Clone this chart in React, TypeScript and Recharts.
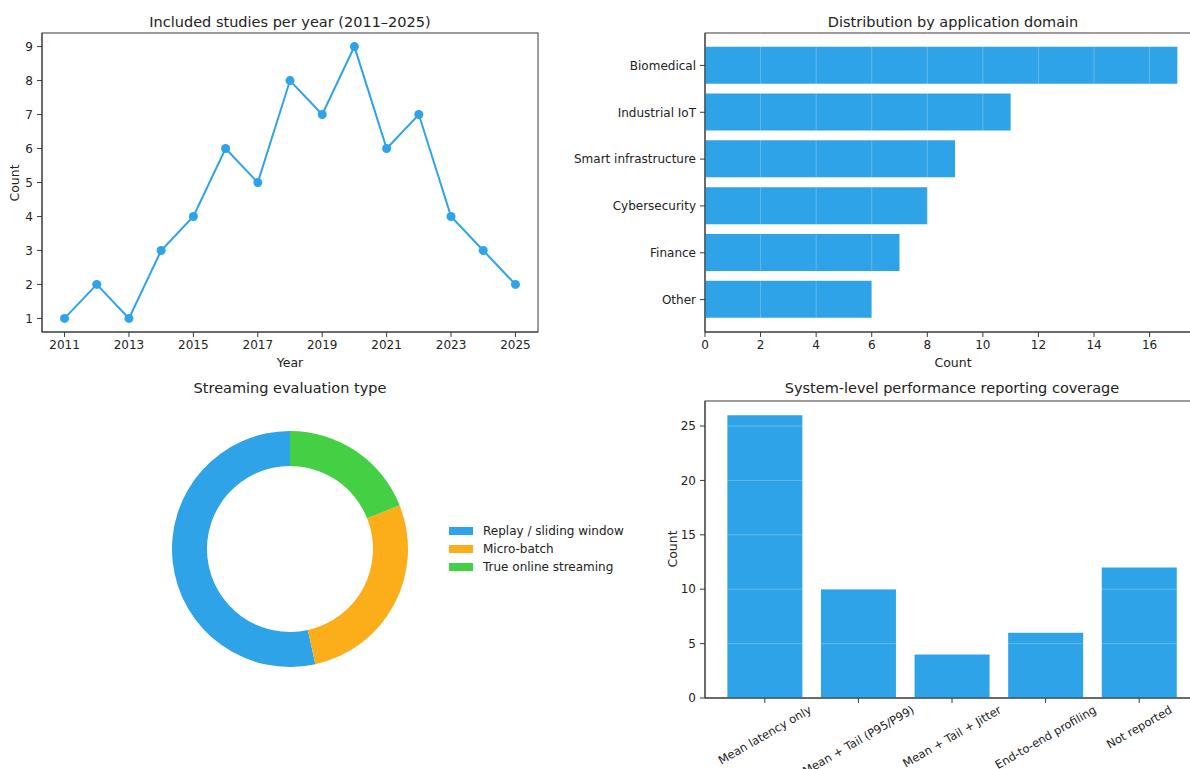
import React from "react";
import * as Recharts from "recharts";
import {
  LineChart,
  Line,
  BarChart,
  Bar,
  PieChart,
  Pie,
  Cell,
  XAxis,
  YAxis,
  ReferenceLine,
  Customized,
  Legend,
} from "recharts";

// studies per year
const years = [2011, 2012, 2013, 2014, 2015, 2016, 2017, 2018, 2019, 2020, 2021, 2022, 2023, 2024, 2025];
const studyCounts = [1, 2, 1, 3, 4, 6, 5, 8, 7, 9, 6, 7, 4, 3, 2];
const yearTicks = [2011, 2013, 2015, 2017, 2019, 2021, 2023, 2025];
const studyTicks = [1, 2, 3, 4, 5, 6, 7, 8, 9];

// application domains
const domains = ["Biomedical", "Industrial IoT", "Smart infrastructure", "Cybersecurity", "Finance", "Other"];
const domainCounts = [17, 11, 9, 8, 7, 6];
const domainTicks = [0, 2, 4, 6, 8, 10, 12, 14, 16];

// streaming evaluation type
const evalTypes = ["Replay / sliding window", "Micro-batch", "True online streaming"];
const evalCounts = [31, 16, 11];
const evalColors = ["#2EA3E8", "#FBAD1A", "#44D044"];

// performance reporting
const reportTypes = [
  "Mean latency only",
  "Mean + Tail (P95/P99)",
  "Mean + Tail + Jitter",
  "End-to-end profiling",
  "Not reported",
];
const reportCounts = [26, 10, 4, 6, 12];
const reportTicks = [0, 5, 10, 15, 20, 25];

const BLUE = "#2EA3E8";
const FRAME = "#3a3a3a";
const TEXT = "#222";
const FONT = "'DejaVu Sans', sans-serif";
const TICK_FONT = 12;
const ROT_FONT = 11.5;

// axis limits with matplotlib-style 5% margins
const yearDomain: [number, number] = [2010.3, 2025.7];
const studyDomain: [number, number] = [0.6, 9.4];
const domainMax = 17.85;
const reportMax = 27.3;

const yearData = years.map((year, i) => ({ year, count: studyCounts[i] }));
const domainData = domains.map((domain, i) => ({ domain, count: domainCounts[i] }));
const evalData = evalTypes.map((type, i) => ({ type, count: evalCounts[i] }));
const reportData = reportTypes.map((type, i) => ({ type, count: reportCounts[i] }));

const tickStyle = { fontSize: TICK_FONT, fill: TEXT };

// outline of the whole plot area (matplotlib-style axes box)
function AxesBox() {
  const usePlotArea = (Recharts as any).usePlotArea;
  const area = usePlotArea ? usePlotArea() : null;
  if (!area) return null;
  return (
    <rect
      x={area.x}
      y={area.y}
      width={area.width}
      height={area.height}
      fill="none"
      stroke={FRAME}
    />
  );
}

let measureCtx: CanvasRenderingContext2D | null = null;
function textWidth(s: string) {
  if (!measureCtx) measureCtx = document.createElement("canvas").getContext("2d");
  if (!measureCtx) return s.length * ROT_FONT * 0.6;
  measureCtx.font = `${ROT_FONT}px 'DejaVu Sans'`;
  return measureCtx.measureText(s).width;
}

// x labels rotated 30deg, bounding box centred under the tick
function RotatedTick(props: any) {
  const { x, y, payload } = props;
  const w = textWidth(payload.value);
  const a = Math.PI / 6;
  const boxH = w * Math.sin(a) + ROT_FONT * 1.15 * Math.cos(a);
  const cy = y + boxH / 2;
  return (
    <text
      x={x}
      y={cy}
      transform={`rotate(-30 ${x} ${cy})`}
      textAnchor="middle"
      dominantBaseline="central"
      fontSize={ROT_FONT}
      fill={TEXT}
    >
      {payload.value}
    </text>
  );
}

function PieLegend() {
  return (
    <div style={{ fontSize: TICK_FONT, color: TEXT, lineHeight: "18px" }}>
      {evalTypes.map((t, i) => (
        <div key={t} style={{ display: "flex", alignItems: "center", whiteSpace: "nowrap" }}>
          <span style={{ width: 24, height: 8, background: evalColors[i], marginRight: 10 }} />
          {t}
        </div>
      ))}
    </div>
  );
}

function Title({ x, y, children }: { x: number; y: number; children: React.ReactNode }) {
  return (
    <div
      style={{
        position: "absolute",
        left: x,
        top: y,
        transform: "translate(-50%, -50%)",
        fontSize: 14.5,
        color: TEXT,
        whiteSpace: "nowrap",
      }}
    >
      {children}
    </div>
  );
}

function AxisTitle({ x, y, vertical, children }: { x: number; y: number; vertical?: boolean; children: React.ReactNode }) {
  return (
    <div
      style={{
        position: "absolute",
        left: x,
        top: y,
        transform: `translate(-50%, -50%)${vertical ? " rotate(-90deg)" : ""}`,
        fontSize: 12.5,
        color: TEXT,
        whiteSpace: "nowrap",
      }}
    >
      {children}
    </div>
  );
}

export default function App() {
  return (
    <div
      style={{
        position: "fixed",
        left: 0,
        top: 0,
        width: 1190,
        height: 769,
        overflow: "hidden",
        background: "#fff",
        fontFamily: FONT,
      }}
    >
      {/* Line: studies per year */}
      <div style={{ position: "absolute", left: 0, top: 0 }}>
        <LineChart width={560} height={380} data={yearData} margin={{ top: 33, right: 22, bottom: 0, left: 0 }}>
          <XAxis
            dataKey="year"
            type="number"
            domain={yearDomain}
            allowDataOverflow
            ticks={yearTicks}
            height={48}
            tick={tickStyle}
            tickSize={5}
            tickMargin={3}
            stroke={FRAME}
          />
          <YAxis
            domain={studyDomain}
            allowDataOverflow
            ticks={studyTicks}
            width={42}
            tick={tickStyle}
            tickSize={5}
            tickMargin={4}
            stroke={FRAME}
          />
          <Customized component={AxesBox} />
          <Line
            type="linear"
            dataKey="count"
            stroke={BLUE}
            strokeWidth={2}
            dot={{ r: 4.5, fill: BLUE, stroke: BLUE, strokeWidth: 0 }}
            isAnimationActive={false}
          />
        </LineChart>
      </div>
      <Title x={290} y={22}>Included studies per year (2011–2025)</Title>
      <AxisTitle x={290} y={362}>Year</AxisTitle>
      <AxisTitle x={14} y={183} vertical>Count</AxisTitle>

      {/* Horizontal bars: application domain */}
      <div style={{ position: "absolute", left: 560, top: 0 }}>
        <BarChart
          layout="vertical"
          width={660}
          height={380}
          data={domainData}
          margin={{ top: 33, right: 19, bottom: 0, left: 0 }}
          barCategoryGap="10%"
        >
          <XAxis
            type="number"
            domain={[0, domainMax]}
            allowDataOverflow
            ticks={domainTicks}
            height={48}
            tick={tickStyle}
            tickSize={5}
            tickMargin={3}
            stroke={FRAME}
          />
          <YAxis
            type="category"
            dataKey="domain"
            width={145}
            padding={{ top: 9, bottom: 9 }}
            tick={tickStyle}
            tickSize={5}
            tickMargin={4}
            stroke={FRAME}
            interval={0}
          />
          <Customized component={AxesBox} />
          <Bar dataKey="count" fill={BLUE} isAnimationActive={false} />
          {domainTicks.slice(1).map((t) => (
            <ReferenceLine key={t} x={t} stroke="#ffffff" strokeOpacity={0.25} />
          ))}
        </BarChart>
      </div>
      <Title x={953} y={22}>Distribution by application domain</Title>
      <AxisTitle x={953} y={362}>Count</AxisTitle>

      {/* Donut: streaming evaluation type */}
      <div style={{ position: "absolute", left: 0, top: 370 }}>
        <PieChart width={560} height={399} margin={{ top: 0, right: 0, bottom: 0, left: 0 }}>
          <Pie
            data={evalData}
            dataKey="count"
            nameKey="type"
            cx={290}
            cy={179}
            innerRadius={83}
            outerRadius={118}
            startAngle={90}
            endAngle={450}
            stroke="none"
            isAnimationActive={false}
          >
            {evalData.map((d, i) => (
              <Cell key={d.type} fill={evalColors[i]} />
            ))}
          </Pie>
          <Legend
            layout="vertical"
            align="right"
            verticalAlign="top"
            content={<PieLegend />}
            wrapperStyle={{ left: 449, top: 152, width: "auto", right: "auto" }}
          />
        </PieChart>
      </div>
      <Title x={290} y={388}>Streaming evaluation type</Title>

      {/* Vertical bars: performance reporting */}
      <div style={{ position: "absolute", left: 560, top: 370 }}>
        <BarChart
          width={660}
          height={399}
          data={reportData}
          margin={{ top: 31, right: 21, bottom: 0, left: 0 }}
          barCategoryGap="10%"
        >
          <XAxis
            dataKey="type"
            padding={{ left: 13, right: 13 }}
            height={71}
            tick={<RotatedTick />}
            tickSize={5}
            tickMargin={0}
            stroke={FRAME}
            interval={0}
          />
          <YAxis
            domain={[0, reportMax]}
            allowDataOverflow
            ticks={reportTicks}
            width={145}
            tick={tickStyle}
            tickSize={5}
            tickMargin={4}
            stroke={FRAME}
          />
          <Customized component={AxesBox} />
          <Bar dataKey="count" fill={BLUE} isAnimationActive={false} />
          {reportTicks.slice(1).map((t) => (
            <ReferenceLine key={t} y={t} stroke="#ffffff" strokeOpacity={0.25} />
          ))}
        </BarChart>
      </div>
      <Title x={952} y={388}>System-level performance reporting coverage</Title>
      <AxisTitle x={672} y={549} vertical>Count</AxisTitle>
    </div>
  );
}
